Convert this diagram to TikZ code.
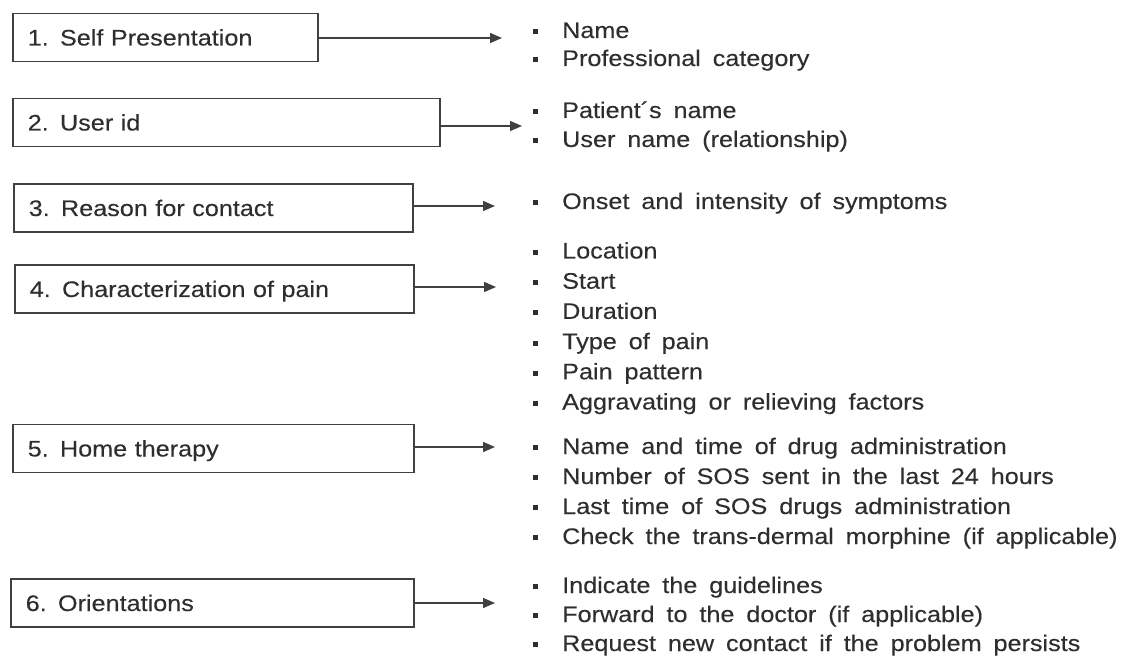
\documentclass[tikz,border=0pt]{standalone}
\usepackage{fontspec}
\setmainfont{Liberation Sans}[FakeStretch=1.12, WordSpace=1.7, FakeBold=0.2]
\usetikzlibrary{arrows.meta}
\definecolor{linegray}{HTML}{404040}
\definecolor{textgray}{HTML}{2E2E2E}
\newcommand{\sqb}{\rule[3.6pt]{5pt}{5pt}\hspace{24pt}}
\begin{document}
\begin{tikzpicture}[x=1pt, y=-1pt,
  every node/.style={font=\fontsize{22.5pt}{26pt}\selectfont, text=textgray},
  stage/.style={draw=linegray, line width=1.5pt, anchor=west, inner xsep=15pt, inner ysep=0pt,
    text width=#1, align=left, minimum height=48pt, text height=20pt, text depth=4pt},
  item/.style={anchor=base west, inner sep=0pt},
  link/.style={draw=linegray, line width=1.4pt, -{Triangle[length=12pt,width=10pt]}}]
\useasboundingbox (0,0) rectangle (1124,660);
% the six stages
\node[stage=275pt] (s1) at (12,37.5) {1. Self Presentation};
\node[stage=397pt] (s2) at (12,122.5) {2. User id};
\node[stage=369pt] (s3) at (13,208) {3. Reason for contact};
\node[stage=369pt] (s4) at (14,289) {4. Characterization of pain};
\node[stage=371pt] (s5) at (12,448.5) {5. Home therapy};
\node[stage=373pt] (s6) at (10,603) {6. Orientations};
% arrow tips
\coordinate (t1) at (502,38);
\coordinate (t2) at (522,126);
\coordinate (t3) at (495,206);
\coordinate (t4) at (496,287);
\coordinate (t5) at (495,447);
\coordinate (t6) at (495,603);
\foreach \k in {1,...,6}
  \draw[link] (s\k.east |- t\k) -- (t\k);
% item lists
\foreach \txt [count=\i from 0] in {Name, Professional category}
  \node[item] (l1-\i) at (533,{38+28*\i}) {\sqb\txt};
\foreach \txt [count=\i from 0] in {Patient´s name, User name (relationship)}
  \node[item] (l2-\i) at (533,{118+29*\i}) {\sqb\txt};
\node[item] (l3-0) at (533,209) {\sqb Onset and intensity of symptoms};
\foreach \txt [count=\i from 0] in {Location, Start, Duration, Type of pain, Pain pattern,
    Aggravating or relieving factors}
  \node[item] (l4-\i) at (533,{258.5+30.2*\i}) {\sqb\txt};
\foreach \txt [count=\i from 0] in {Name and time of drug administration,
    Number of SOS sent in the last 24 hours, Last time of SOS drugs administration,
    Check the trans-dermal morphine (if applicable)}
  \node[item] (l5-\i) at (533,{454+30*\i}) {\sqb\txt};
\foreach \txt [count=\i from 0] in {Indicate the guidelines, Forward to the doctor (if applicable),
    Request new contact if the problem persists}
  \node[item] (l6-\i) at (533,{593+29*\i}) {\sqb\txt};
\end{tikzpicture}
\end{document}
